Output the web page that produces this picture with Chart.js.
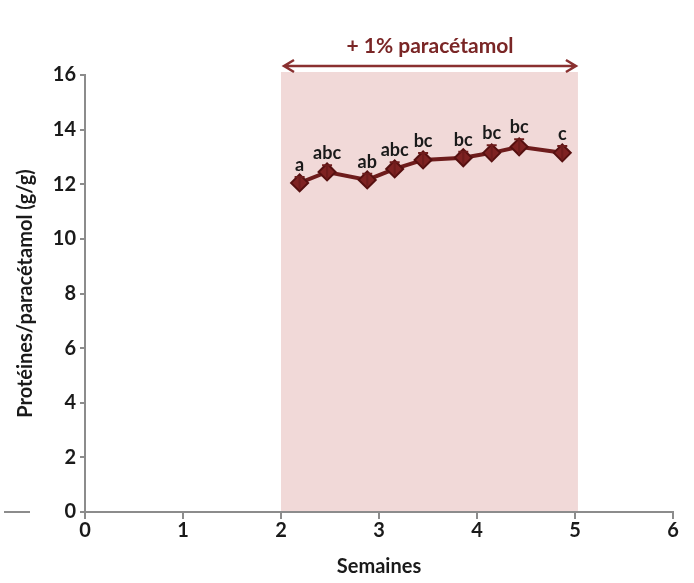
<!DOCTYPE html>
<html>
<head>
<meta charset="utf-8">
<script src="https://cdn.jsdelivr.net/npm/chart.js@4"></script>
<style>
  html, body { margin: 0; padding: 0; background: #fff; }
  #wrap { width: 694px; height: 583px; position: relative; }
</style>
</head>
<body>
<div id="wrap"><canvas id="chart"></canvas></div>
<script>
// ---- data ----
const weeks   = [2.19, 2.47, 2.88, 3.16, 3.45, 3.86, 4.15, 4.43, 4.87];
const ratio   = [12.05, 12.45, 12.16, 12.56, 12.89, 12.97, 13.15, 13.37, 13.15];
const errors  = [0.22, 0.25, 0.22, 0.25, 0.25, 0.22, 0.28, 0.28, 0.25];
const letters = ['a', 'abc', 'ab', 'abc', 'bc', 'bc', 'bc', 'bc', 'c'];
const treatStart = 2.0;
const treatEnd = 5.03;
const treatLabel = '+ 1% paracétamol';

const FONT = 'Lato, "Open Sans", sans-serif';
const AXIS = '#8c8c8c';
const WINE = '#6e1c1c';

// shaded treatment period, arrow, error bars and letter labels
const overlay = {
  id: 'overlay',
  beforeDatasetsDraw(chart) {
    const { ctx, scales: { x, y } } = chart;
    const x0 = x.getPixelForValue(treatStart), x1 = x.getPixelForValue(treatEnd);
    const top = y.getPixelForValue(16) - 3, bot = y.getPixelForValue(0);
    ctx.save();
    ctx.fillStyle = '#f1d9d8';
    ctx.fillRect(x0, top, x1 - x0, bot - top - 1);
    ctx.restore();
  },
  afterDatasetsDraw(chart) {
    const { ctx, scales: { x, y } } = chart;
    ctx.save();
    // error bars (upper part only shows above the markers)
    ctx.strokeStyle = WINE;
    ctx.lineWidth = 2;
    weeks.forEach((w, i) => {
      const px = x.getPixelForValue(w);
      const pt = y.getPixelForValue(ratio[i] + errors[i]);
      const pb = y.getPixelForValue(ratio[i] - errors[i]);
      ctx.beginPath();
      ctx.moveTo(px, pb); ctx.lineTo(px, pt);
      ctx.moveTo(px - 5, pt); ctx.lineTo(px + 5, pt);
      ctx.stroke();
    });
    // significance letters
    ctx.fillStyle = '#1a1a1a';
    ctx.font = 'bold 18px ' + FONT;
    ctx.textAlign = 'center';
    ctx.textBaseline = 'alphabetic';
    weeks.forEach((w, i) => {
      const px = x.getPixelForValue(w);
      const py = y.getPixelForValue(ratio[i] + errors[i]);
      ctx.fillText(letters[i], px, py - 6);
    });
    // double arrow + label above the plot
    const x0 = x.getPixelForValue(treatStart) + 3, x1 = x.getPixelForValue(treatEnd) - 2;
    const ay = y.getPixelForValue(16) - 9;
    ctx.strokeStyle = '#8a3030';
    ctx.lineWidth = 2.5;
    ctx.beginPath();
    ctx.moveTo(x0, ay); ctx.lineTo(x1, ay);
    ctx.moveTo(x0 + 10, ay - 6); ctx.lineTo(x0, ay); ctx.lineTo(x0 + 10, ay + 6);
    ctx.moveTo(x1 - 10, ay - 6); ctx.lineTo(x1, ay); ctx.lineTo(x1 - 10, ay + 6);
    ctx.stroke();
    ctx.fillStyle = '#7a2626';
    ctx.font = 'bold 21px ' + FONT;
    ctx.textBaseline = 'middle';
    ctx.fillText(treatLabel, (x0 + x1) / 2, ay - 20);
    // short stray rule at the far left
    const zy = y.getPixelForValue(0);
    ctx.strokeStyle = AXIS;
    ctx.lineWidth = 2;
    ctx.beginPath();
    ctx.moveTo(4, zy); ctx.lineTo(30, zy);
    ctx.stroke();
    ctx.restore();
  }
};

new Chart(document.getElementById('chart'), {
  type: 'line',
  data: {
    datasets: [{
      data: weeks.map((w, i) => ({ x: w, y: ratio[i] })),
      borderColor: WINE,
      borderWidth: 4,
      pointStyle: 'rectRot',
      pointRadius: 8.5,
      pointBackgroundColor: '#7e2222',
      pointBorderColor: '#561010',
      pointBorderWidth: 2,
      tension: 0
    }]
  },
  options: {
    responsive: true,
    maintainAspectRatio: false,
    animation: false,
    layout: { padding: { left: 12, right: 21, top: 75, bottom: 0 } },
    plugins: { legend: { display: false }, tooltip: { enabled: false } },
    scales: {
      x: {
        type: 'linear',
        min: 0, max: 6,
        ticks: { stepSize: 1, color: '#1a1a1a', font: { family: FONT, size: 20, weight: 'bold' }, padding: 0 },
        grid: { drawOnChartArea: false, drawTicks: true, tickLength: 7, color: AXIS, lineWidth: 2 },
        border: { color: AXIS, width: 2 },
        title: { display: true, text: 'Semaines', color: '#1a1a1a', font: { family: FONT, size: 20, weight: 'bold' }, padding: { top: 4 } },
        afterFit(scale) { scale.height = 71; }
      },
      y: {
        min: 0, max: 16,
        ticks: { stepSize: 2, color: '#1a1a1a', font: { family: FONT, size: 20, weight: 'bold' }, padding: 4 },
        grid: { drawOnChartArea: false, drawTicks: true, tickLength: 5, color: AXIS, lineWidth: 2 },
        border: { color: AXIS, width: 2 },
        title: { display: true, text: 'Protéines/paracétamol (g/g)', color: '#1a1a1a', font: { family: FONT, size: 20, weight: 'bold' }, padding: 2 },
        afterFit(scale) { scale.width = 73; }
      }
    }
  },
  plugins: [overlay]
});
</script>
</body>
</html>
